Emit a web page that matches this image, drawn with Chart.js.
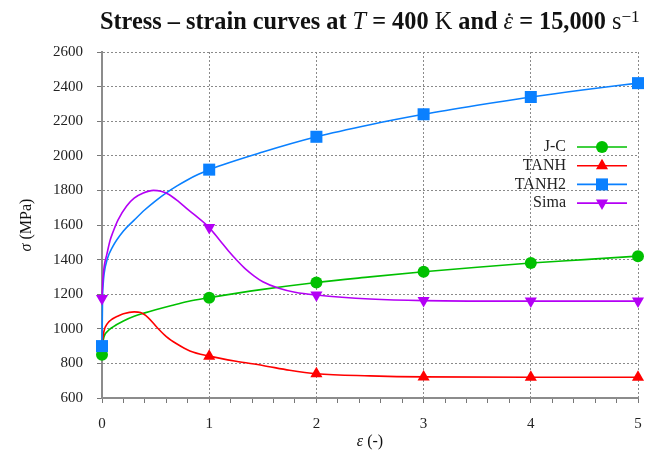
<!DOCTYPE html>
<html>
<head>
<meta charset="utf-8">
<script src="https://cdn.jsdelivr.net/npm/chart.js@4.4.1/dist/chart.umd.min.js"></script>
<style>
  html, body { margin: 0; padding: 0; background: #fff; }
  #wrap { width: 649px; height: 459px; }
</style>
</head>
<body>
<div id="wrap"><canvas id="stressChart" width="649" height="459"></canvas></div>
<script>
// Data (strain eps in -, stress in MPa)
const jcEps = [0, 0.004, 0.02, 0.05, 0.1, 0.2, 0.3, 0.4, 0.5, 0.65, 0.8, 1, 1.5, 2, 2.5, 3, 3.5, 4, 4.5, 5];
const jcVal = [850, 900, 955, 985, 1010, 1045, 1072, 1092, 1110, 1135, 1158, 1180, 1228, 1268, 1300, 1330, 1356, 1380, 1400, 1420];

const tanhEps = [0, 0.005, 0.02, 0.05, 0.1, 0.15, 0.2, 0.3, 0.36, 0.43, 0.51, 0.6, 0.7, 0.82, 1, 1.25, 1.5, 1.75, 2, 2.5, 3, 4, 5];
const tanhVal = [900, 930, 990, 1030, 1058, 1074, 1087, 1098, 1094, 1065, 1010, 955, 912, 872, 842, 812, 788, 760, 740, 728, 722, 720, 720];

const tanh2Eps = [0, 0.005, 0.01, 0.02, 0.05, 0.1, 0.2, 0.3, 0.4, 0.5, 0.6, 0.7, 0.8, 0.9, 1, 1.5, 2, 2.5, 3, 3.5, 4, 4.5, 5];
const tanh2Val = [900, 1180, 1250, 1320, 1405, 1475, 1565, 1628, 1688, 1740, 1786, 1826, 1862, 1893, 1920, 2022, 2110, 2180, 2240, 2292, 2340, 2382, 2420];

const simaEps = [0, 0.005, 0.01, 0.02, 0.045, 0.075, 0.1, 0.15, 0.23, 0.3, 0.385, 0.48, 0.55, 0.62, 0.71, 0.8, 0.87, 1, 1.1, 1.18, 1.26, 1.34, 1.42, 1.5, 1.65, 1.8, 2, 2.5, 3, 4, 5];
const simaVal = [1175, 1250, 1300, 1360, 1430, 1510, 1555, 1630, 1710, 1755, 1785, 1800, 1795, 1778, 1738, 1690, 1655, 1585, 1510, 1450, 1395, 1345, 1305, 1272, 1234, 1211, 1195, 1172, 1163, 1160, 1160];

const yTicks = [600, 800, 1000, 1200, 1400, 1600, 1800, 2000, 2200, 2400, 2600];
const xTicks = [0, 1, 2, 3, 4, 5];

const seriesNames = ['J-C', 'TANH', 'TANH2', 'Sima'];
const seriesColors = ['#00c000', '#ff0000', '#0a80ff', '#b400f5'];
const seriesShapes = ['circle', 'triangle', 'rect', 'triangle'];
const seriesRotation = [0, 0, 0, 180];
const seriesRadius = [6, 7, 8.5, 7];

const SERIF = '"Liberation Serif", "DejaVu Serif", serif';

function isWhole(v) { return Math.abs(v - Math.round(v)) < 1e-6; }

function toPoints(xs, ys) {
    return xs.map((x, i) => ({ x: x, y: ys[i] }));
}

const allData = [toPoints(jcEps, jcVal), toPoints(tanhEps, tanhVal), toPoints(tanh2Eps, tanh2Val), toPoints(simaEps, simaVal)];

const datasets = allData.map((pts, i) => ({
    label: seriesNames[i],
    data: pts,
    borderColor: seriesColors[i],
    backgroundColor: seriesColors[i],
    borderWidth: 1.6,
    pointStyle: seriesShapes[i],
    rotation: seriesRotation[i],
    pointRadius: c => (c.raw && xTicks.includes(c.raw.x)) ? seriesRadius[i] : 0,
    pointBorderWidth: 0,
    pointBackgroundColor: seriesColors[i],
    cubicInterpolationMode: 'monotone',
    clip: false,
    order: 4 - i
}));

// draw a marker shape by hand for the legend
function drawMarker(ctx, shape, rot, r, x, y, color) {
    ctx.save();
    ctx.fillStyle = color;
    ctx.translate(x, y);
    ctx.rotate(rot * Math.PI / 180);
    ctx.beginPath();
    if (shape === 'circle') {
        ctx.arc(0, 0, r, 0, Math.PI * 2);
    } else if (shape === 'rect') {
        const s = Math.SQRT1_2 * r;
        ctx.rect(-s, -s, 2 * s, 2 * s);
    } else {
        ctx.moveTo(0, -r);
        ctx.lineTo(r * 0.866, r / 2);
        ctx.lineTo(-r * 0.866, r / 2);
        ctx.closePath();
    }
    ctx.fill();
    ctx.restore();
}

const decorPlugin = {
    id: 'decor',
    afterDraw(chart) {
        const ctx = chart.ctx;
        const area = chart.chartArea;
        ctx.save();
        ctx.fillStyle = '#111';

        // Title with mixed fonts
        const size = 17;
        const bold = 'bold ' + size + 'px ' + SERIF;
        const ital = 'italic ' + size + 'px ' + SERIF;
        const reg = size + 'px ' + SERIF;
        const runs = [
            { t: 'Stress \u2013 strain curves at ', f: bold },
            { t: 'T', f: ital },
            { t: ' = 400 ', f: bold },
            { t: 'K', f: reg },
            { t: ' and ', f: bold },
            { t: '\u03b5', f: ital, dot: true },
            { t: ' = 15,000 ', f: bold },
            { t: 's', f: reg },
            { t: '\u22121', f: '12px ' + SERIF, sup: true }
        ];
        let total = 0;
        runs.forEach(r => { ctx.font = r.f; r.w = ctx.measureText(r.t).width; total += r.w; });
        const targetW = 540;
        const k = targetW / total;
        let x = (area.left + area.right) / 2 - targetW / 2;
        const ty = 29;
        ctx.textBaseline = 'alphabetic';
        ctx.textAlign = 'left';
        runs.forEach(r => {
            ctx.font = r.f.replace(/(\d+)px/, (m, n) => (parseFloat(n) * k).toFixed(1) + 'px');
            ctx.fillText(r.t, x, r.sup ? ty - 7 : ty);
            const w = ctx.measureText(r.t).width;
            if (r.dot) {
                ctx.beginPath();
                ctx.arc(x + w * 0.6, ty - 14.5, 1.3, 0, Math.PI * 2);
                ctx.fill();
            }
            x += w;
        });

        // Axis titles
        ctx.font = 'italic 16px ' + SERIF;
        ctx.textAlign = 'left';
        ctx.textBaseline = 'middle';
        const xt = '\u03b5';
        const xt2 = ' (-)';
        const w1 = ctx.measureText(xt).width;
        ctx.font = '16px ' + SERIF;
        const w2 = ctx.measureText(xt2).width;
        let sx = (area.left + area.right) / 2 - (w1 + w2) / 2;
        ctx.font = 'italic 16px ' + SERIF;
        ctx.fillText(xt, sx, 442);
        ctx.font = '16px ' + SERIF;
        ctx.fillText(xt2, sx + w1, 442);

        ctx.save();
        ctx.translate(27, (area.top + area.bottom) / 2);
        ctx.rotate(-Math.PI / 2);
        ctx.font = 'italic 16px ' + SERIF;
        const yw1 = ctx.measureText('\u03c3').width;
        ctx.font = '16px ' + SERIF;
        const yw2 = ctx.measureText(' (MPa)').width;
        const ys = -(yw1 + yw2) / 2;
        ctx.font = 'italic 16px ' + SERIF;
        ctx.fillText('\u03c3', ys, 0);
        ctx.font = '16px ' + SERIF;
        ctx.fillText(' (MPa)', ys + yw1, 0);
        ctx.restore();

        // Legend
        ctx.font = '16px ' + SERIF;
        ctx.textAlign = 'right';
        ctx.textBaseline = 'middle';
        seriesNames.forEach((name, i) => {
            const ly = 147 + i * 18.7;
            ctx.fillStyle = '#222';
            ctx.fillText(name, 566, ly);
            ctx.strokeStyle = seriesColors[i];
            ctx.lineWidth = 1.6;
            ctx.beginPath();
            ctx.moveTo(577, ly);
            ctx.lineTo(627, ly);
            ctx.stroke();
            drawMarker(ctx, seriesShapes[i], seriesRotation[i], seriesRadius[i], 602, ly, seriesColors[i]);
        });
        ctx.restore();
    }
};

const ctx = document.getElementById('stressChart').getContext('2d');
new Chart(ctx, {
    type: 'line',
    data: { datasets: datasets },
    options: {
        responsive: false,
        animation: false,
        layout: { padding: { top: 52, right: 11, left: 0, bottom: 0 } },
        plugins: {
            legend: { display: false },
            title: { display: false },
            tooltip: { enabled: false }
        },
        scales: {
            x: {
                type: 'linear',
                min: 0,
                max: 5,
                afterFit: s => { s.height = 61; s.paddingRight = 0; s.paddingLeft = 0; },
                afterBuildTicks: s => {
                    const t = [];
                    for (let i = 0; i <= 25; i++) t.push({ value: i / 5 });
                    s.ticks = t;
                },
                ticks: {
                    autoSkip: false,
                    maxRotation: 0,
                    padding: 12,
                    color: '#222',
                    font: { family: SERIF, size: 15 },
                    callback: v => isWhole(v) ? String(Math.round(v)) : ''
                },
                grid: {
                    color: c => (c.tick && isWhole(c.tick.value)) ? '#8a8a8a' : 'rgba(0,0,0,0)',
                    lineWidth: 1,
                    tickColor: '#777',
                    tickLength: 5,
                    tickBorderDash: []
                },
                border: { display: true, color: '#8c8c8c', width: 2, dash: [2, 2] }
            },
            y: {
                min: 600,
                max: 2600,
                afterFit: s => { s.width = 102; s.paddingTop = 0; s.paddingBottom = 0; },
                afterBuildTicks: s => { s.ticks = yTicks.map(v => ({ value: v })); },
                ticks: {
                    padding: 14,
                    color: '#222',
                    font: { family: SERIF, size: 15 },
                    callback: v => String(v)
                },
                grid: {
                    color: '#8a8a8a',
                    lineWidth: 1,
                    tickColor: '#777',
                    tickLength: 5,
                    tickBorderDash: []
                },
                border: { display: true, color: '#8c8c8c', width: 2, dash: [2, 2] }
            }
        }
    },
    plugins: [decorPlugin]
});
</script>
</body>
</html>
